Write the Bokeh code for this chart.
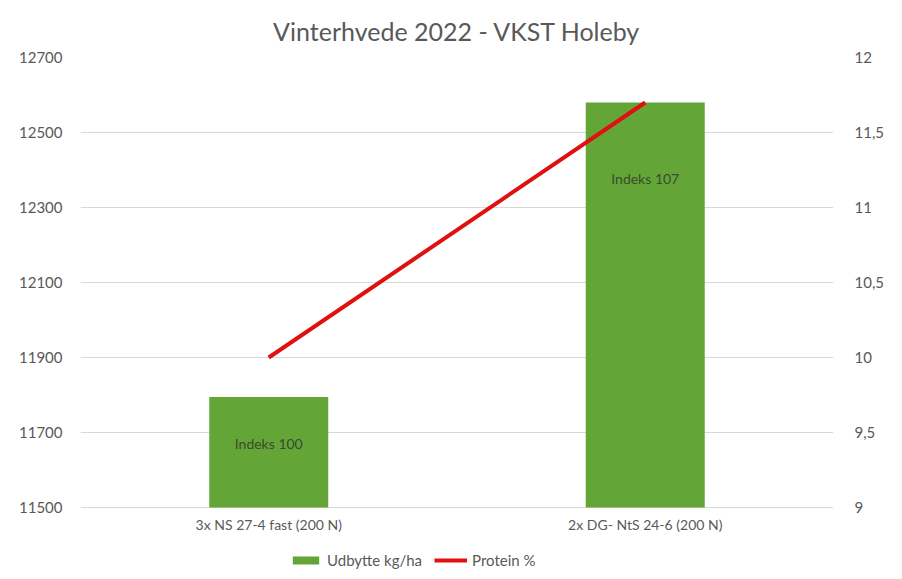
from bokeh.plotting import figure
from bokeh.models import (ColumnDataSource, FactorRange, Range1d, LinearAxis,
                          FixedTicker, CustomJSTickFormatter, Legend, LegendItem)
from bokeh.core.properties import value
from bokeh.embed import file_html
from bokeh.resources import INLINE

# --- data
behandlinger = ["3x NS 27-4 fast (200 N)", "2x DG- NtS 24-6 (200 N)"]
udbytte = [11795, 12580]          # kg/ha (left axis)
protein = [10.0, 11.7]            # % (right axis)
indeks_tekst = ["Indeks 100", "Indeks 107"]
indeks_y = [11672, 12378]         # where the text boxes sit
venstre_ticks = [11500, 11700, 11900, 12100, 12300, 12500, 12700]
hoejre_ticks = [9, 9.5, 10, 10.5, 11, 11.5, 12]

FONT = "Lato"
GRAA = "#595959"
GROEN = "#63A537"
ROED = "#E01010"

# plot area 450 px for the axis span, plus 64 px below it for category labels + legend
PLOT_H = 450
UNDER = 64
v_lo, v_hi = venstre_ticks[0], venstre_ticks[-1]
h_lo, h_hi = hoejre_ticks[0], hoejre_ticks[-1]
v_ext = (v_hi - v_lo) * UNDER / PLOT_H
h_ext = (h_hi - h_lo) * UNDER / PLOT_H

src = ColumnDataSource(dict(x=behandlinger, udbytte=udbytte, protein=protein,
                            tekst=indeks_tekst, ty=indeks_y,
                            bund=[v_lo] * len(behandlinger)))

p = figure(x_range=FactorRange(*behandlinger, range_padding=0),
           y_range=Range1d(v_lo - v_ext, v_hi),
           frame_width=753, frame_height=PLOT_H + UNDER,
           output_backend="svg", toolbar_location=None,
           min_border_left=80, min_border_right=61, min_border_top=57, min_border_bottom=0)
p.extra_y_ranges = {"protein": Range1d(h_lo - h_ext, h_hi)}

p.title.text = "Vinterhvede 2022 - VKST Holeby"
p.title.align = "center"
p.title.text_font = FONT
p.title.text_font_size = "25px"
p.title.text_font_style = "normal"
p.title.text_color = GRAA
p.title.standoff = 24

p.outline_line_color = None
p.xgrid.grid_line_color = None
p.ygrid.grid_line_color = "#d9d9d9"
p.ygrid.ticker = FixedTicker(ticks=venstre_ticks)
p.xaxis.visible = False

bars = p.vbar(x="x", top="udbytte", bottom=v_lo, width=0.316, source=src,
              fill_color=GROEN, line_color=None)
linje = p.line(x="x", y="protein", source=src, y_range_name="protein",
               line_color=ROED, line_width=4)
p.text(x="x", y="ty", text="tekst", source=src, text_align="center",
       text_baseline="middle", text_font=value(FONT), text_font_size="14px",
       text_color="#3b4a2f")
# category labels under the base line
p.text(x="x", y="bund", text="x", source=src, y_offset=17, text_align="center",
       text_baseline="middle", text_font=value(FONT), text_font_size="14px",
       text_color=GRAA)

# left axis
ya = p.yaxis[0]
ya.ticker = FixedTicker(ticks=venstre_ticks)
ya.axis_line_color = None
ya.major_tick_line_color = None
ya.minor_tick_line_color = None
ya.major_label_standoff = 12
ya.major_label_text_font = FONT
ya.major_label_text_font_size = "15px"
ya.major_label_text_color = GRAA

# right axis
ra = LinearAxis(y_range_name="protein", ticker=FixedTicker(ticks=hoejre_ticks),
                formatter=CustomJSTickFormatter(code="return tick.toString().replace('.', ',');"))
ra.axis_line_color = None
ra.major_tick_line_color = None
ra.minor_tick_line_color = None
ra.major_label_standoff = 15
ra.major_label_text_font = FONT
ra.major_label_text_font_size = "15px"
ra.major_label_text_color = GRAA
p.add_layout(ra, "right")

legend = Legend(items=[LegendItem(label="Udbytte kg/ha", renderers=[bars]),
                       LegendItem(label="Protein %", renderers=[linje])],
                orientation="horizontal", location=(209, 2), margin=0, padding=4,
                glyph_width=33, glyph_height=10, label_standoff=5, spacing=12,
                label_height=14, label_text_font=FONT, label_text_font_size="15px",
                label_text_color=GRAA, border_line_color=None, background_fill_alpha=0)
p.add_layout(legend, "center")

open("out.html", "w").write(file_html(p, INLINE))
